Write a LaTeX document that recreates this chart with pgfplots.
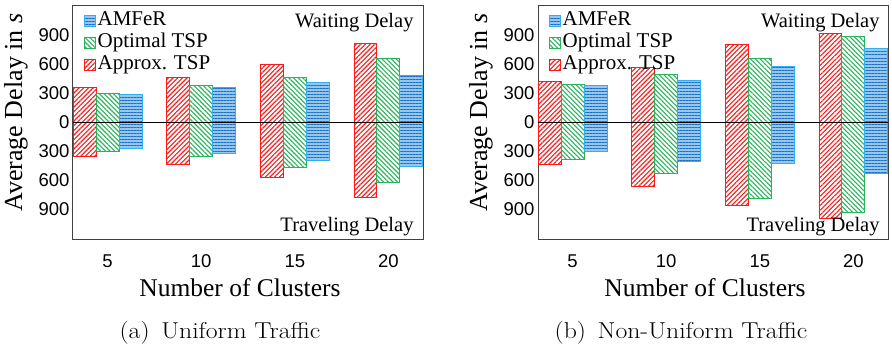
\documentclass[border=0pt]{standalone}
\usepackage{graphicx}
\usepackage{pgfplots}
\usepackage{pgfplotstable}
\pgfplotsset{compat=1.18}
\usepackage{fontspec}
\usetikzlibrary{patterns.meta}
\newfontfamily\timesf{Liberation Serif}
\newfontfamily\arialf{Liberation Sans}

\definecolor{myred}{RGB}{255,25,25}
\definecolor{mygreen}{RGB}{40,180,90}
\definecolor{bluefill}{RGB}{150,200,238}
\definecolor{bluedark}{RGB}{25,110,200}
\definecolor{blueedge}{RGB}{50,175,240}

% columns: approx waiting/traveling, optimal waiting/traveling, AMFeR waiting/traveling
\pgfplotstableread{
x apw apt opw opt amw amt
0 354 -361 292 -306 282 -278
1 464 -443 381 -361 357 -326
2 598 -577 464 -474 405 -395
3 814 -783 660 -625 481 -464
}\uniform

\pgfplotstableread{
x apw apt opw opt amw amt
0 416 -436 385 -392 381 -309
1 567 -666 495 -536 429 -412
2 797 -862 656 -787 577 -426
3 917 -1000 886 -938 756 -536
}\nonuniform

\pgfplotsset{
  redbar/.style={draw=myred, line width=0.9pt, bar shift=-0.245,
    pattern={Lines[angle=45,distance=3.3pt,line width=1.1pt]}, pattern color=myred},
  greenbar/.style={draw=mygreen, line width=0.9pt, bar shift=0,
    pattern={Lines[angle=-45,distance=3.3pt,line width=1.1pt]}, pattern color=mygreen},
  bluebar/.style={draw=blueedge, line width=0.9pt, bar shift=0.245, fill=bluefill,
    postaction={pattern={Lines[angle=0,distance=3pt,line width=1pt]}, pattern color=bluedark}},
  myaxis/.style={
    scale only axis, width=350pt, height=234pt,
    anchor=south west,
    xmin=-0.37, xmax=3.37, ymin=-1210, ymax=1210,
    xtick={0,1,2,3}, xticklabels={5,10,15,20},
    ytick={-900,-600,-300,0,300,600,900},
    yticklabels={900,600,300,0,300,600,900},
    major tick length=0pt,
    tick label style={font=\arialf\fontsize{18.5}{18.5}\selectfont},
    xticklabel style={yshift=-12pt},
    axis line style={draw=black!75, line width=1pt},
    ybar, bar width=0.245,
    xlabel={Number of Clusters},
    xlabel style={at={(axis description cs:0.477,-0.209)}, anchor=center,
      font=\timesf\fontsize{25.5}{25.5}\selectfont},
    ylabel={Average Delay in \textit{s}},
    ylabel style={at={(axis description cs:-0.163,0.54)}, anchor=center,
      font=\timesf\fontsize{26}{26}\selectfont},
    legend style={at={(rel axis cs:0,1)}, anchor=north west, xshift=10pt, yshift=-4pt,
      draw=none, fill=none,
      font=\timesf\fontsize{21}{21}\selectfont,
      row sep=0pt, inner sep=1pt,
      nodes={inner sep=1.5pt, text height=14pt, text depth=5pt,
        font=\timesf\fontsize{21}{21}\selectfont}},
    legend cell align=left,
    reverse legend,
    legend image code/.code={\draw[#1] (0pt,-5.5pt) rectangle (11pt,5.5pt);},
  },
}

\begin{document}
\begin{tikzpicture}
\path[use as bounding box] (0,0) rectangle (892pt,349pt);

\begin{axis}[myaxis, at={(73pt,110pt)}]
\addplot[redbar] table[x=x,y=apw]{\uniform};
\addlegendentry{Approx. TSP}
\addplot[greenbar] table[x=x,y=opw]{\uniform};
\addlegendentry{Optimal TSP}
\addplot[bluebar] table[x=x,y=amw]{\uniform};
\addlegendentry{AMFeR}
\addplot[redbar, forget plot] table[x=x,y=apt]{\uniform};
\addplot[greenbar, forget plot] table[x=x,y=opt]{\uniform};
\addplot[bluebar, forget plot] table[x=x,y=amt]{\uniform};
\draw[black, line width=0.9pt] (axis cs:-0.37,0) -- (axis cs:3.37,0);
\node[anchor=base east, font=\timesf\fontsize{20.5}{20.5}\selectfont]
  at (rel axis cs:0.983,0.902) {Waiting Delay};
\node[anchor=base east, font=\timesf\fontsize{20.5}{20.5}\selectfont]
  at (rel axis cs:0.983,0.03) {Traveling Delay};
\end{axis}

\begin{axis}[myaxis, at={(538pt,110pt)}]
\addplot[redbar] table[x=x,y=apw]{\nonuniform};
\addlegendentry{Approx. TSP}
\addplot[greenbar] table[x=x,y=opw]{\nonuniform};
\addlegendentry{Optimal TSP}
\addplot[bluebar] table[x=x,y=amw]{\nonuniform};
\addlegendentry{AMFeR}
\addplot[redbar, forget plot] table[x=x,y=apt]{\nonuniform};
\addplot[greenbar, forget plot] table[x=x,y=opt]{\nonuniform};
\addplot[bluebar, forget plot] table[x=x,y=amt]{\nonuniform};
\draw[black, line width=0.9pt] (axis cs:-0.37,0) -- (axis cs:3.37,0);
\node[anchor=base east, font=\timesf\fontsize{20.5}{20.5}\selectfont]
  at (rel axis cs:0.986,0.902) {Waiting Delay};
\node[anchor=base east, font=\timesf\fontsize{20.5}{20.5}\selectfont]
  at (rel axis cs:0.986,0.03) {Traveling Delay};
\end{axis}

\node[font=\fontsize{23}{23}\selectfont] at (220pt,16pt) {\scalebox{1.12}[1]{(a)\hspace{0.15em} Uniform Traffic}};
\node[font=\fontsize{23}{23}\selectfont] at (681pt,16pt) {\scalebox{1.12}[1]{(b)\hspace{0.15em} Non-Uniform Traffic}};
\end{tikzpicture}
\end{document}
